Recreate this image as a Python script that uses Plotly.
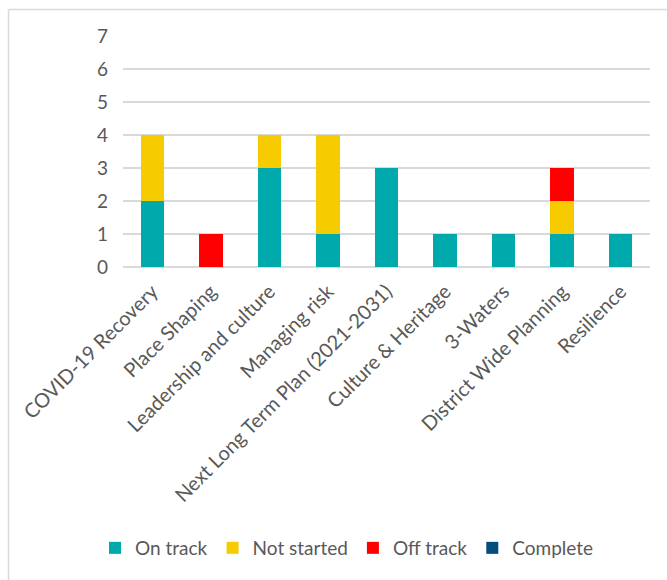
import plotly.graph_objects as go

categories = ["COVID-19 Recovery", "Place Shaping", "Leadership and culture", "Managing risk",
              "Next Long Term Plan (2021-2031)", "Culture & Heritage", "3-Waters",
              "District Wide Planning", "Resilience"]
on_track = [2, 0, 3, 1, 3, 1, 1, 1, 1]
not_started = [2, 0, 1, 3, 0, 0, 0, 1, 0]
off_track = [0, 1, 0, 0, 0, 0, 0, 1, 0]
complete = [0, 0, 0, 0, 0, 0, 0, 0, 0]
y_ticks = [0, 1, 2, 3, 4, 5, 6, 7]

series = [("On track", on_track, "#00A9AC"),
          ("Not started", not_started, "#F6CB00"),
          ("Off track", off_track, "#FF0000"),
          ("Complete", complete, "#024D7C")]

W, H = 667, 580
L, R, T, B = 123, 17, 36, 313
pw, ph = W - L - R, H - T - B

def px_x(px):
    return (px - L) / pw

def px_y(py):
    return (H - B - py) / ph

fig = go.Figure()
for name, vals, col in series:
    fig.add_trace(go.Bar(x=categories, y=vals, name=name, marker=dict(color=col, line=dict(width=0))))

base = dict(family="Lato, Open Sans, sans-serif", color="#595959")
font = dict(base, size=19)
xfont = dict(base, size=20)
lfont = dict(base, size=19)

fig.update_layout(
    width=W, height=H,
    margin=dict(l=L, r=R, t=T, b=B, autoexpand=False),
    barmode="stack", bargap=0.6,
    plot_bgcolor="white", paper_bgcolor="white",
    font=font,
    showlegend=True,
    legend=dict(orientation="h", x=px_x(347), xanchor="center", y=px_y(548), yanchor="middle",
                font=lfont, traceorder="normal", itemclick=False),
    xaxis=dict(tickangle=-45, showgrid=False, showline=False, ticks="", automargin=False,
               tickfont=xfont, ticklabelstandoff=8, fixedrange=True),
    yaxis=dict(range=[0, 7], tickvals=y_ticks, showgrid=True, gridcolor="#D9D9D9", gridwidth=1.5,
               zeroline=True, zerolinecolor="#D9D9D9", zerolinewidth=1.5, showline=False,
               ticks="", ticklabelstandoff=14, automargin=False, tickfont=font, fixedrange=True),
    shapes=[
        dict(type="line", xref="paper", yref="paper", x0=px_x(8.5), x1=px_x(8.5),
             y0=px_y(H + 5), y1=px_y(9.5), line=dict(color="#D9D9D9", width=1.5)),
        dict(type="line", xref="paper", yref="paper", x0=px_x(8.5), x1=px_x(W + 5),
             y0=px_y(9.5), y1=px_y(9.5), line=dict(color="#D9D9D9", width=1.5)),
    ],
)

fig.write_html("out.html")
